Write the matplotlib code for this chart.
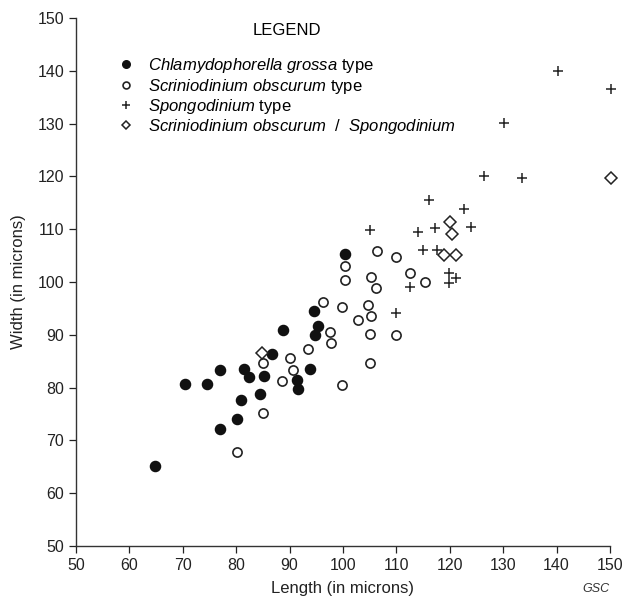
import numpy as np
import matplotlib
matplotlib.use("Agg")
import matplotlib.pyplot as plt

plt.rcParams['font.family'] = ['Liberation Sans', 'DejaVu Sans']
plt.rcParams['mathtext.fontset'] = 'custom'
plt.rcParams['mathtext.it'] = 'Liberation Sans:italic'
plt.rcParams['mathtext.rm'] = 'Liberation Sans'

# Chlamydophorella grossa type (filled circles)
grossa_len = [64.8, 70.5, 74.6, 77.0, 77.0, 80.2, 80.9, 81.4, 82.4, 84.5,
              85.3, 86.7, 88.8, 91.3, 91.5, 93.9, 94.7, 95.4, 94.5, 100.3]
grossa_wid = [65.2, 80.7, 80.7, 83.3, 72.2, 74.1, 77.6, 83.5, 82.0, 78.7,
              82.2, 86.4, 90.9, 81.4, 79.7, 83.5, 90.0, 91.6, 94.5, 105.3]

# Scriniodinium obscurum type (open circles)
obscurum_len = [80.2, 85.1, 85.0, 90.1, 90.7, 88.6, 93.5, 97.8, 97.5, 96.2,
                99.9, 99.9, 100.3, 100.3, 102.9, 104.6, 105.3, 105.0, 105.0,
                105.3, 106.1, 106.3, 110.0, 110.0, 112.5, 115.3]
obscurum_wid = [67.8, 75.2, 84.7, 85.6, 83.4, 81.3, 87.3, 88.4, 90.5, 96.2,
                80.5, 95.3, 103.0, 100.4, 92.8, 95.6, 93.6, 90.2, 84.7,
                100.9, 98.9, 105.9, 104.8, 90.0, 101.7, 100.0]

# Spongodinium type (plus)
spongo_len = [105.0, 114.0, 117.2, 116.2, 122.6, 123.9, 114.9, 117.7, 112.5,
              110.0, 119.8, 121.1, 119.8, 126.4, 133.5, 130.1, 140.2, 150.2]
spongo_wid = [109.8, 109.5, 110.2, 115.5, 113.8, 110.4, 106.1, 106.0, 99.1,
              94.1, 101.8, 100.7, 99.8, 120.1, 119.7, 130.1, 140.0, 136.6]

# Scriniodinium obscurum / Spongodinium (diamonds)
mixed_len = [84.8, 120.0, 120.5, 119.0, 121.1, 150.2]
mixed_wid = [86.6, 111.4, 109.1, 105.1, 105.1, 119.7]

ticks = np.arange(50, 151, 10)

fig = plt.figure(figsize=(6.23, 6.01), dpi=100)
ax = fig.add_axes([0.122, 0.0915, 0.857, 0.8785])

ax.plot(grossa_len, grossa_wid, 'o', ms=7.3, mfc='#111111', mec='#111111',
        clip_on=False,
        label=r'$\it{Chlamydophorella\ grossa}$ type')
ax.plot(obscurum_len, obscurum_wid, 'o', ms=6.6, mfc='white', mec='#222222',
        mew=1.2, clip_on=False,
        label=r'$\it{Scriniodinium\ obscurum}$ type')
ax.plot(spongo_len, spongo_wid, '+', ms=7.5, mec='#222222', mew=1.1,
        clip_on=False, label=r'$\it{Spongodinium}$ type')
ax.plot(mixed_len, mixed_wid, 'D', ms=6.0, mfc='white', mec='#222222',
        mew=1.1, clip_on=False,
        label=r'$\it{Scriniodinium\ obscurum\ \ /\ \ Spongodinium}$')

ax.set_xlim(50, 150)
ax.set_ylim(50, 150)
ax.set_xticks(ticks)
ax.set_yticks(ticks)
ax.tick_params(direction='out', length=5, width=0.9, labelsize=11.5,
               colors='#222222')
for s in ['top', 'right']:
    ax.spines[s].set_visible(False)
for s in ['left', 'bottom']:
    ax.spines[s].set_linewidth(1.0)
    ax.spines[s].set_color('#333333')

ax.set_xlabel('Length (in microns)', fontsize=12, color='#222222', labelpad=6)
ax.set_ylabel('Width (in microns)', fontsize=12, color='#222222', labelpad=8)

leg = ax.legend(loc='upper left', bbox_to_anchor=(0.0655, 1.003), frameon=False,
                title='LEGEND', fontsize=12, title_fontsize=12,
                handletextpad=0.8, labelspacing=0.08, handlelength=1.0,
                markerscale=0.75, borderaxespad=0)
leg._legend_box.sep = 13

fig.text(0.978, 0.015, 'GSC', fontsize=9, style='italic', ha='right',
         color='#333333')

fig.savefig('out.png', dpi=100)
